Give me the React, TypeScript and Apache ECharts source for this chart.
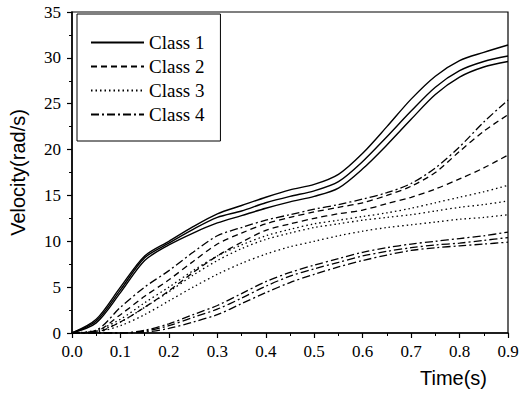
import React, { useEffect, useRef } from "react";
import * as echarts from "echarts";

const timeValues = [0, 0.05, 0.1, 0.15, 0.2, 0.25, 0.3, 0.35, 0.4, 0.45, 0.5, 0.55, 0.6, 0.65, 0.7, 0.75, 0.8, 0.85, 0.9];

const class1Top = [0, 1.5, 5.0, 8.4, 10.0, 11.6, 13.0, 13.9, 14.8, 15.6, 16.2, 17.3, 19.6, 22.5, 25.5, 28.0, 29.7, 30.6, 31.4];
const class1Mid = [0, 1.3, 4.7, 8.2, 9.8, 11.3, 12.6, 13.3, 14.2, 14.9, 15.5, 16.5, 18.7, 21.4, 24.2, 26.8, 28.6, 29.6, 30.2];
const class1Low = [0, 1.1, 4.4, 7.9, 9.6, 10.9, 12.0, 12.8, 13.6, 14.3, 14.9, 15.8, 17.9, 20.5, 23.3, 26.0, 27.9, 29.0, 29.6];

const class2Upper = [0, 0.2, 2.0, 4.0, 5.8, 7.8, 9.7, 10.9, 11.9, 12.6, 13.2, 13.7, 14.2, 15.0, 16.0, 17.5, 19.8, 22.0, 23.8];
const class2Lower = [0, 0.1, 1.2, 2.8, 4.6, 6.6, 8.4, 9.9, 11.2, 11.9, 12.5, 13.0, 13.4, 14.1, 14.8, 15.7, 16.8, 18.0, 19.4];

const class3Top = [0, 0.3, 1.5, 3.3, 5.0, 6.8, 8.4, 9.6, 10.6, 11.3, 11.9, 12.3, 12.7, 13.1, 13.6, 14.2, 14.8, 15.4, 16.1];
const class3Mid = [0, 0.2, 1.2, 2.8, 4.5, 6.3, 7.9, 9.2, 10.2, 10.9, 11.5, 11.9, 12.3, 12.6, 12.9, 13.3, 13.7, 14.0, 14.4];
const class3Low = [0, 0.1, 0.8, 2.0, 3.5, 5.0, 6.4, 7.6, 8.6, 9.4, 10.0, 10.6, 11.1, 11.5, 11.8, 12.1, 12.4, 12.6, 12.9];

const class4High = [0, 0.3, 2.8, 5.0, 6.8, 8.8, 10.6, 11.5, 12.3, 12.9, 13.5, 14.0, 14.6, 15.3, 16.3, 18.0, 20.3, 23.0, 25.4];
const class4Top = [0, 0, 0, 0.3, 1.0, 2.0, 3.0, 4.3, 5.6, 6.6, 7.4, 8.1, 8.8, 9.3, 9.7, 10.0, 10.3, 10.6, 11.0];
const class4Mid = [0, 0, 0, 0.2, 0.8, 1.7, 2.6, 3.8, 5.1, 6.2, 7.0, 7.7, 8.4, 8.9, 9.3, 9.6, 9.8, 10.1, 10.4];
const class4Low = [0, 0, 0, 0.1, 0.5, 1.2, 2.0, 3.2, 4.4, 5.5, 6.4, 7.2, 7.9, 8.5, 9.0, 9.3, 9.5, 9.7, 9.9];

const legendNames = ["Class 1", "Class 2", "Class 3", "Class 4"];
const xTickLabels = ["0.0", "0.1", "0.2", "0.3", "0.4", "0.5", "0.6", "0.7", "0.8", "0.9"];

const dashStyles: Record<string, any> = {
  "Class 1": "solid",
  "Class 2": [6, 4],
  "Class 3": [1.5, 3],
  "Class 4": [8, 3, 2, 3],
};

const seriesDefs: [string, number[]][] = [
  ["Class 1", class1Top],
  ["Class 1", class1Mid],
  ["Class 1", class1Low],
  ["Class 2", class2Upper],
  ["Class 2", class2Lower],
  ["Class 3", class3Top],
  ["Class 3", class3Mid],
  ["Class 3", class3Low],
  ["Class 4", class4High],
  ["Class 4", class4Top],
  ["Class 4", class4Mid],
  ["Class 4", class4Low],
];

export default function App() {
  const ref = useRef<HTMLDivElement>(null);
  useEffect(() => {
    if (!ref.current) return;
    const chart = echarts.init(ref.current, null, { renderer: "svg" });
    const serif = "Liberation Serif, Times New Roman, serif";
    const sans = "Liberation Sans, Arial, sans-serif";
    chart.setOption({
      animation: false,
      backgroundColor: "#fff",
      grid: {
        left: 71,
        right: 18,
        top: 12,
        bottom: 61,
        show: true,
        borderColor: "#000",
        borderWidth: 1.2,
      },
      legend: {
        data: legendNames,
        orient: "vertical",
        left: 77,
        top: 14,
        itemWidth: 53,
        itemHeight: 14,
        itemGap: 5,
        padding: [19, 16, 17, 13],
        borderColor: "#000",
        borderWidth: 1,
        itemStyle: { opacity: 0 },
        textStyle: { fontFamily: serif, fontSize: 19, color: "#000", lineHeight: 19 },
      },
      xAxis: {
        type: "value",
        min: 0,
        max: 0.9,
        interval: 0.1,
        axisLine: { show: true, lineStyle: { color: "#000", width: 1.5 } },
        axisTick: { show: true, length: 5, lineStyle: { color: "#000", width: 1.2 } },
        minorTick: { show: true, splitNumber: 2, length: 3, lineStyle: { color: "#000", width: 1 } },
        splitLine: { show: false },
        axisLabel: {
          margin: 10,
          fontFamily: serif,
          fontSize: 17,
          color: "#000",
          formatter: (v: number) => xTickLabels[Math.round(v * 10)] ?? v.toFixed(1),
        },
      },
      yAxis: {
        type: "value",
        min: 0,
        max: 35,
        interval: 5,
        name: "Velocity(rad/s)",
        nameLocation: "middle",
        nameGap: 44,
        nameTextStyle: { fontFamily: sans, fontSize: 20, color: "#000" },
        axisLine: { show: true, lineStyle: { color: "#000", width: 1.5 } },
        axisTick: { show: true, length: 5, lineStyle: { color: "#000", width: 1.2 } },
        minorTick: { show: true, splitNumber: 2, length: 3, lineStyle: { color: "#000", width: 1 } },
        splitLine: { show: false },
        axisLabel: { margin: 11, fontFamily: serif, fontSize: 17, color: "#000" },
      },
      graphic: [
        {
          type: "text",
          left: 420,
          top: 368,
          style: { text: "Time(s)", font: `20px ${sans}`, fill: "#000" },
        },
      ],
      series: seriesDefs.map(([name, vals]) => ({
        name,
        type: "line",
        data: timeValues.map((t, i) => [t, vals[i]]),
        smooth: 0.3,
        symbol: "none",
        lineStyle: { color: "#000", width: name === "Class 1" ? 1.4 : 1.3, type: dashStyles[name] },
        itemStyle: { color: "#000" },
      })),
    });
    return () => chart.dispose();
  }, []);
  return <div ref={ref} style={{ position: "fixed", left: 0, top: 0, width: 526, height: 394 }} />;
}
